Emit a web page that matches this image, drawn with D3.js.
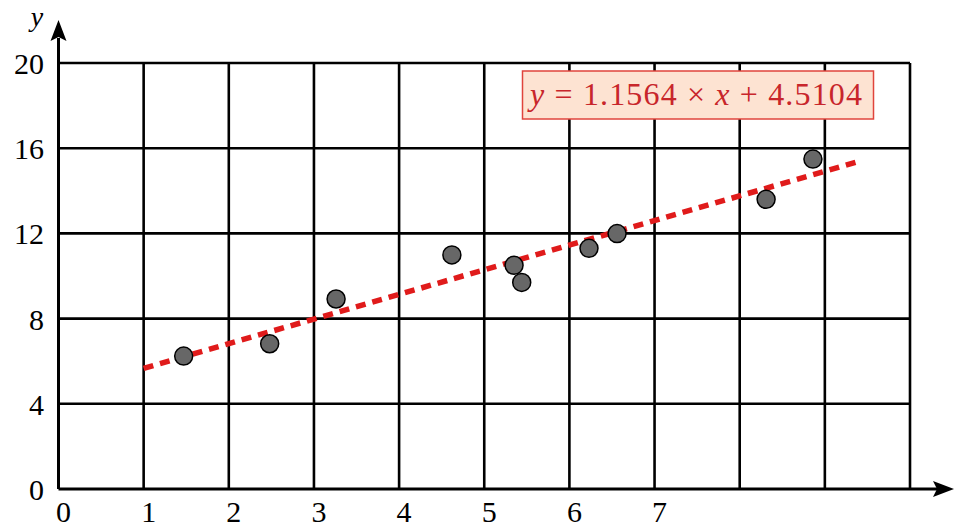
<!DOCTYPE html>
<html lang="en">
<head>
  <meta charset="utf-8">
  <title>Linear fit</title>
  <style>
    body { margin: 0; background: #fff; }
    text { font-family: "Liberation Serif", "DejaVu Serif", serif; }
  </style>
</head>
<body>
<script src="https://cdn.jsdelivr.net/npm/d3@7/dist/d3.min.js"></script>
<script>
  // data
  var xs = [1.47, 2.48, 3.26, 4.62, 5.35, 5.44, 6.23, 6.56, 8.31, 8.86];
  var ys = [6.24, 6.82, 8.92, 10.99, 10.5, 9.70, 11.3, 11.99, 13.6, 15.49];
  var xTicks = [0, 1, 2, 3, 4, 5, 6, 7];
  var yTicks = [0, 4, 8, 12, 16, 20];
  var slope = 1.1564, intercept = 4.5104;
  var fitRange = [1, 9.42];

  var width = 971, height = 530;

  var x = d3.scaleLinear().domain([0, 10]).range([58.5, 910]);
  var y = d3.scaleLinear().domain([0, 20]).range([489, 63]);

  var svg = d3.select("body").append("svg")
    .attr("width", width)
    .attr("height", height);

  // grid
  var grid = svg.append("g").attr("stroke", "#000").attr("stroke-width", 2.6);
  grid.selectAll("line.v")
    .data(d3.range(1, 11))
    .enter().append("line")
      .attr("x1", function(d) { return x(d); })
      .attr("x2", function(d) { return x(d); })
      .attr("y1", y(0)).attr("y2", y(20));
  grid.selectAll("line.h")
    .data(d3.range(4, 21, 4))
    .enter().append("line")
      .attr("x1", x(0)).attr("x2", x(10))
      .attr("y1", function(d) { return y(d); })
      .attr("y2", function(d) { return y(d); });

  // axes with arrow heads
  svg.append("line")
    .attr("x1", x(0)).attr("y1", y(0))
    .attr("x2", 937).attr("y2", y(0))
    .attr("stroke", "#000").attr("stroke-width", 3);
  svg.append("path")
    .attr("d", "M933," + (y(0) - 8) + " L954," + y(0) + " L933," + (y(0) + 8) + " L937," + y(0) + " z")
    .attr("fill", "#000");
  svg.append("line")
    .attr("x1", x(0)).attr("y1", y(0))
    .attr("x2", x(0)).attr("y2", 38)
    .attr("stroke", "#000").attr("stroke-width", 3);
  svg.append("path")
    .attr("d", "M" + (x(0) - 8) + ",41 L" + x(0) + ",20 L" + (x(0) + 8) + ",41 L" + x(0) + ",37 z")
    .attr("fill", "#000");

  // tick labels
  svg.selectAll("text.xt")
    .data(xTicks)
    .enter().append("text")
      .attr("x", function(d) { return x(d) + 5; })
      .attr("y", 522)
      .attr("text-anchor", "middle")
      .attr("font-size", 30)
      .text(function(d) { return d; });
  svg.selectAll("text.yt")
    .data(yTicks)
    .enter().append("text")
      .attr("x", 44)
      .attr("y", function(d) { return y(d) + 11; })
      .attr("text-anchor", "end")
      .attr("font-size", 30)
      .text(function(d) { return d; });
  svg.append("text")
    .attr("x", 37).attr("y", 26)
    .attr("text-anchor", "middle")
    .attr("font-size", 28)
    .attr("font-style", "italic")
    .text("y");

  // fitted line
  svg.append("line")
    .attr("x1", x(fitRange[0])).attr("y1", y(slope * fitRange[0] + intercept))
    .attr("x2", x(fitRange[1])).attr("y2", y(slope * fitRange[1] + intercept))
    .attr("stroke", "#e01b1b")
    .attr("stroke-width", 5.5)
    .attr("stroke-dasharray", "10,7");

  // points
  svg.selectAll("circle")
    .data(d3.range(xs.length))
    .enter().append("circle")
      .attr("cx", function(i) { return x(xs[i]); })
      .attr("cy", function(i) { return y(ys[i]); })
      .attr("r", 9)
      .attr("fill", "#676767")
      .attr("stroke", "#000")
      .attr("stroke-width", 1.5);

  // equation box
  var box = svg.append("g");
  box.append("rect")
    .attr("x", 522.5).attr("y", 71)
    .attr("width", 351).attr("height", 48)
    .attr("fill", "#fde3d2")
    .attr("stroke", "#e0443c")
    .attr("stroke-width", 1.5);
  var eq = box.append("text")
    .attr("x", 530).attr("y", 105)
    .attr("font-size", 32)
    .attr("fill", "#c8262b")
    .attr("textLength", 332)
    .attr("lengthAdjust", "spacing");
  eq.append("tspan").attr("font-style", "italic").text("y");
  eq.append("tspan").text(" = " + slope + " \u00d7 ");
  eq.append("tspan").attr("font-style", "italic").text("x");
  eq.append("tspan").text(" + " + intercept);
</script>
</body>
</html>
